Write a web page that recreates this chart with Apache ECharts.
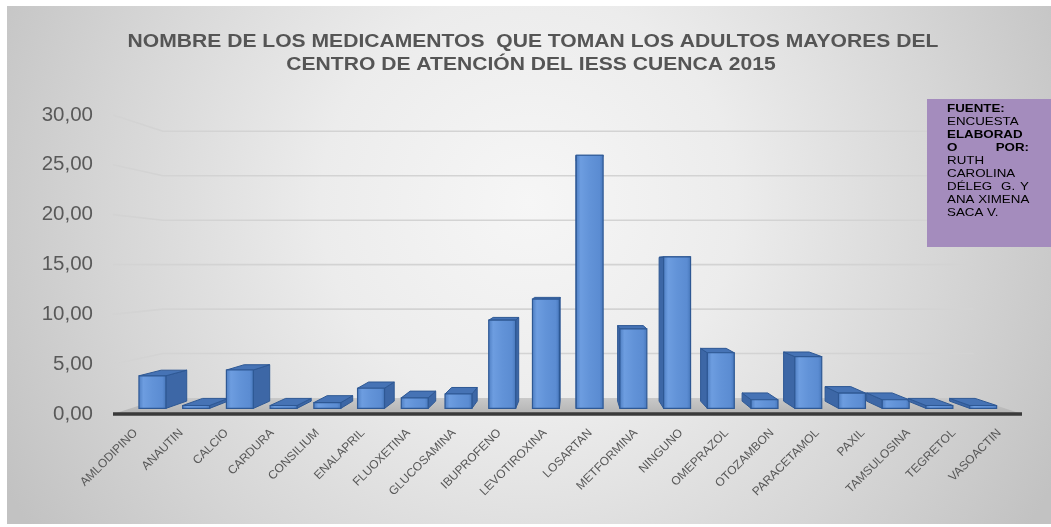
<!DOCTYPE html>
<html><head><meta charset="utf-8">
<script src="https://cdn.jsdelivr.net/npm/echarts@6/dist/echarts.min.js"></script>
<style>html,body{margin:0;padding:0;background:#fff}#c{width:1051px;height:527px}</style>
</head><body><div id="c"></div>
<script>
const categories = ['AMLODIPINO','ANAUTIN','CALCIO','CARDURA','CONSILIUM','ENALAPRIL','FLUOXETINA','GLUCOSAMINA','IBUPROFENO','LEVOTIROXINA','LOSARTAN','METFORMINA','NINGUNO','OMEPRAZOL','OTOZAMBON','PARACETAMOL','PAXIL','TAMSULOSINA','TEGRETOL','VASOACTIN'];
const values = [3.4,0.3,4.0,0.3,0.6,2.1,1.1,1.5,9.2,11.4,26.4,8.3,15.8,5.8,0.9,5.4,1.6,0.9,0.3,0.3];
const yTicks = [0,5,10,15,20,25,30];
const titleLines = ['NOMBRE DE LOS MEDICAMENTOS  QUE TOMAN LOS ADULTOS MAYORES DEL','CENTRO DE ATENCIÓN DEL IESS CUENCA 2015'];
const noteLines = [
  {l:'FUENTE:', b:true},
  {l:'ENCUESTA', b:false},
  {l:'ELABORAD', b:true},
  {l:'O', r:'POR:', b:true},
  {l:'RUTH', b:false},
  {l:'CAROLINA', b:false},
  {l:'DÉLEG', m:'G.', r:'Y', b:false},
  {l:'ANA XIMENA', b:false},
  {l:'SACA V.', b:false}
];

const VP = [575, 266];
const KF = 0.962, KB = 0.913, KW = 0.892;
const BAR_W = 28;
function proj(p, k){ return [VP[0] + (p[0]-VP[0])*k, VP[1] + (p[1]-VP[1])*k]; }

function renderDeco(params, api){
  const cs = params.coordSys;
  const x0 = cs.x, x1 = cs.x + cs.width;
  const yb = api.coord([0,0])[1];
  const ch = [];
  yTicks.forEach(t => {
    if (t === 0) return;
    const y = api.coord([0,t])[1];
    const a = [x0, y], b = proj(a, KW), c = proj([x1, y], KW);
    ch.push({type:'polyline', shape:{points:[a,b,c]}, style:{stroke:'#d3d3d3', lineWidth:1.6, fill:null}});
  });
  ch.push({type:'polygon', shape:{points:[[x0,yb],[x1,yb],proj([x1,yb],KW),proj([x0,yb],KW)]},
    style:{fill:{type:'linear',x:0,y:0,x2:0,y2:1,colorStops:[{offset:0,color:'#c9c9c9'},{offset:1,color:'#b3b3b3'}]}}});
  ch.push({type:'line', shape:{x1:x0, y1:yb, x2:x1, y2:yb}, style:{stroke:'#3a3a3a', lineWidth:3.5}});
  return {type:'group', children:ch};
}

function renderBar(params, api){
  const i = api.value(0), v = api.value(1);
  const base = api.coord([i,0]), top = api.coord([i,v]);
  const hw = BAR_W/2;
  const fl=[base[0]-hw, base[1]], fr=[base[0]+hw, base[1]], tl=[base[0]-hw, top[1]], tr=[base[0]+hw, top[1]];
  const F = p => proj(p, KF), B = p => proj(p, KB);
  const stroke = '#2e5894';
  const ch = [];
  if (base[0] < VP[0]) {
    ch.push({type:'polygon', shape:{points:[F(fr),B(fr),B(tr),F(tr)]}, style:{fill:'#3d67a6', stroke:stroke, lineWidth:1}});
  } else {
    ch.push({type:'polygon', shape:{points:[F(fl),B(fl),B(tl),F(tl)]}, style:{fill:'#3d67a6', stroke:stroke, lineWidth:1}});
  }
  ch.push({type:'polygon', shape:{points:[F(tl),F(tr),B(tr),B(tl)]}, style:{fill:'#4673b5', stroke:stroke, lineWidth:1}});
  const a = F(tl), b = F(fr);
  ch.push({type:'rect', shape:{x:a[0], y:a[1], width:b[0]-a[0], height:b[1]-a[1]},
    style:{fill:{type:'linear',x:0,y:0,x2:1,y2:0,colorStops:[
      {offset:0,color:'#4c7cc0'},{offset:0.18,color:'#6d9de0'},{offset:0.5,color:'#6293d8'},{offset:0.85,color:'#5b8cd2'},{offset:1,color:'#4676ba'}]},
      stroke:stroke, lineWidth:1.2}});
  return {type:'group', children:ch};
}

const TITLE_FONT = 'bold 18.5px "Liberation Sans", Arial, sans-serif';
const graphics = [
  {type:'rect', z:-100, silent:true, shape:{x:7, y:6, width:1044, height:518},
    style:{fill:{type:'radial', x:0.5, y:0.38, r:1.15, colorStops:[
      {offset:0,color:'#f6f6f6'},{offset:0.35,color:'#ececec'},{offset:0.7,color:'#d6d6d6'},{offset:1,color:'#c2c2c2'}]}}},
  {type:'text', z:50, x:533, y:42, scaleX:1.14, style:{text:titleLines[0], align:'center', verticalAlign:'middle', font:TITLE_FONT, fill:'#555555'}},
  {type:'text', z:50, x:531, y:65, scaleX:1.14, style:{text:titleLines[1], align:'center', verticalAlign:'middle', font:TITLE_FONT, fill:'#555555'}},
  {type:'rect', z:60, shape:{x:927, y:99, width:124, height:148}, style:{fill:'#a48cbd'}}
];
noteLines.forEach((ln, k) => {
  const y = 109 + k*13;
  const font = (ln.b ? 'bold ' : '') + '11.5px "Liberation Sans", Arial, sans-serif';
  graphics.push({type:'text', z:80, x:947, y:y, scaleX:1.16, style:{text:ln.l, font:font, fill:'#000', align:'left', verticalAlign:'middle'}});
  if (ln.m) graphics.push({type:'text', z:80, x:1001, y:y, scaleX:1.16, style:{text:ln.m, font:font, fill:'#000', align:'left', verticalAlign:'middle'}});
  if (ln.r) graphics.push({type:'text', z:80, x:1029, y:y, scaleX:1.16, style:{text:ln.r, font:font, fill:'#000', align:'right', verticalAlign:'middle'}});
});

const chart = echarts.init(document.getElementById('c'));
chart.setOption({
  backgroundColor:'#ffffff',
  animation:false,
  grid:{left:113, right:29, top:115, bottom:113},
  xAxis:{type:'category', data:categories, boundaryGap:true,
    axisLine:{show:false}, axisTick:{show:false},
    axisLabel:{interval:0, rotate:45, margin:17, fontSize:12, color:'#595959', fontFamily:'"Liberation Sans", Arial, sans-serif'}},
  yAxis:{type:'value', min:0, max:30, interval:5,
    axisLine:{show:false}, axisTick:{show:false}, splitLine:{show:false},
    axisLabel:{margin:20, fontSize:20.5, color:'#595959', fontFamily:'"Liberation Sans", Arial, sans-serif',
      formatter: v => v.toFixed(2).replace('.', ',')}},
  graphic: graphics,
  series:[
    {type:'custom', z:1, silent:true, renderItem:renderDeco, data:[[0,0]], encode:{x:0,y:1}},
    {type:'custom', z:3, renderItem:renderBar, data:values.map((v,i)=>[i,v]), encode:{x:0,y:1}}
  ]
});
</script></body></html>
